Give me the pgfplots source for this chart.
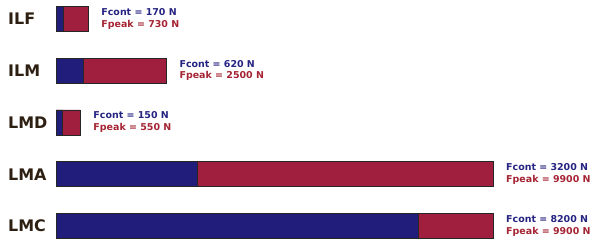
\documentclass[border=0pt]{standalone}
\usepackage{pgfplots}
\usepackage{pgfplotstable}
\pgfplotsset{compat=1.18}
\usepackage{fontspec}
\setmainfont{DejaVu Sans}
\definecolor{barblue}{RGB}{32,30,122}
\definecolor{barred}{RGB}{160,30,62}
\definecolor{txtblue}{RGB}{38,36,130}
\definecolor{txtred}{RGB}{165,36,52}
\definecolor{catcol}{RGB}{45,32,18}
\pgfplotstableread{
cat y cont peak
ILF 4 170 730
ILM 3 620 2500
LMD 2 150 550
LMA 1 3200 9900
LMC 0 8200 9900
}\data
\begin{document}
\begin{tikzpicture}
\path[use as bounding box] (0,0) rectangle (611bp,241bp);
\begin{axis}[
  at={(56bp,15bp)}, anchor=south west,
  scale only axis, width=437bp, height=207bp,
  xmin=0, xmax=9900, ymin=0, ymax=4,
  clip=false,
  axis line style={draw=none}, tick style={draw=none},
  xtick=\empty,
  ytick={0,1,2,3,4},
  yticklabels={LMC,LMA,LMD,ILM,ILF},
  yticklabel style={anchor=west, inner sep=0pt, xshift=-48bp, font=\fontsize{16}{16}\selectfont\bfseries, text=catcol},
  lbl/.style={draw=none, mark=none, point meta=explicit symbolic,
    nodes near coords style={anchor=west, xshift=13bp, inner sep=0pt,
      font=\fontsize{9.5}{11}\selectfont\bfseries}},
]
\addplot[xbar, bar width=25bp, bar shift=0pt, fill=barred, draw=black!85, line width=0.9bp] table[x=peak,y=y]{\data};
\addplot[xbar, bar width=25bp, bar shift=0pt, fill=barblue, draw=black!85, line width=0.9bp] table[x=cont,y=y]{\data};
\addplot[lbl, nodes near coords={Fcont = \pgfplotspointmeta\ N},
  every node near coord/.append style={yshift=7bp, text=txtblue}]
  table[x=peak,y=y,meta=cont]{\data};
\addplot[lbl, nodes near coords={Fpeak = \pgfplotspointmeta\ N},
  every node near coord/.append style={yshift=-5.5bp, text=txtred}]
  table[x=peak,y=y,meta=peak]{\data};
\end{axis}
\end{tikzpicture}
\end{document}
